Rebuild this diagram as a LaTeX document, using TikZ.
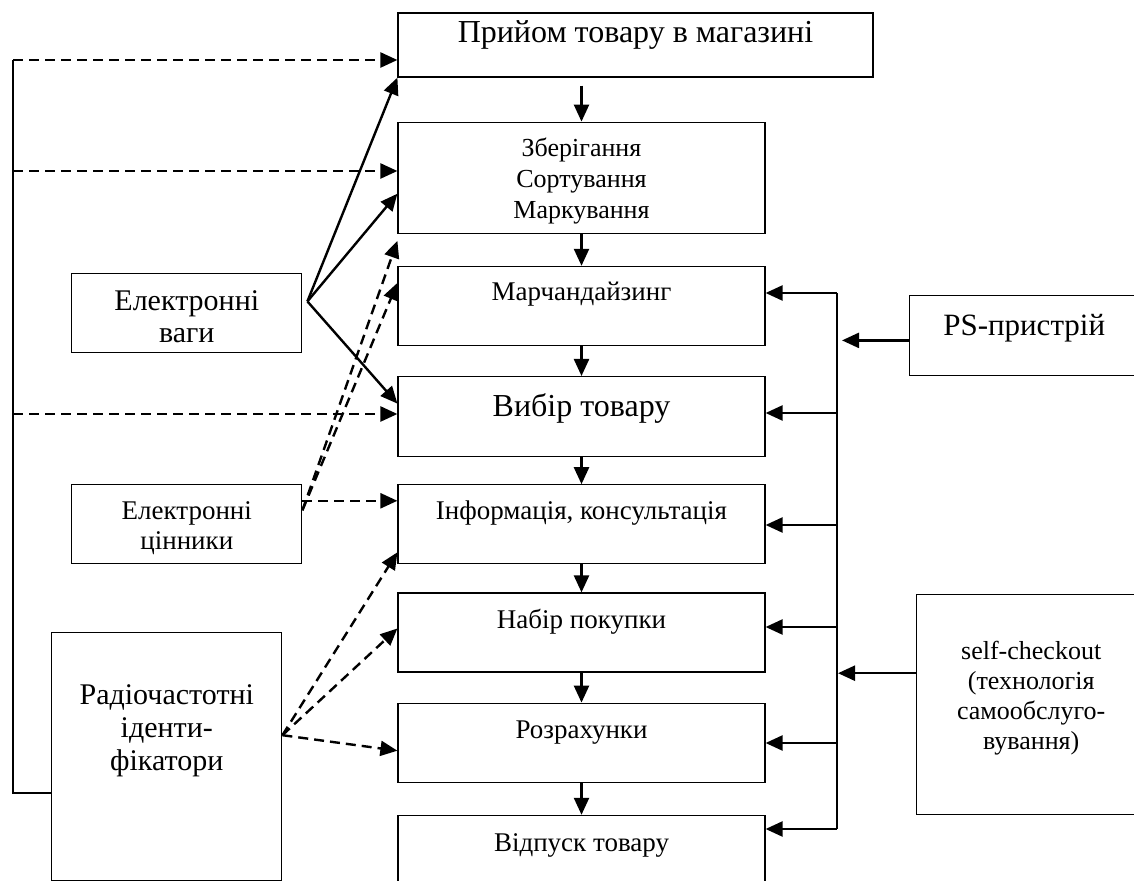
\documentclass[tikz,border=0pt]{standalone}
\usepackage{fontspec}
\setmainfont{Liberation Serif}
\usetikzlibrary{positioning, arrows.meta}

\begin{document}
\begin{tikzpicture}[x=0.5pt, y=-0.5pt, node distance=15pt and 47.5pt]

% Стилі
\tikzset{
    stage/.style={rectangle, draw, line width=0.6pt, minimum width=183.5pt, inner xsep=2pt, inner ysep=0pt, align=center},
    tech/.style={rectangle, draw, line width=0.6pt, minimum width=115pt, inner xsep=2pt, inner ysep=0pt, align=center},
    arrow/.style={-{Triangle[length=8.5pt,width=7.5pt]}, line width=1.2pt},
    dasharrow/.style={arrow, dash pattern=on 5pt off 3pt},
    bus/.style={line width=1.1pt}
}

\useasboundingbox (0,0) rectangle (1134,881);

% Вузли
\node (recv) [stage, minimum width=237.5pt, text height=15pt, text depth=17pt, font=\fontsize{16}{18}\selectfont] at (635.5,45) {Прийом товару в магазині};
\node (store) [stage, below=22pt of recv.south west, anchor=north west, text height=48pt, text depth=7.5pt, font=\fontsize{13}{15.5}\selectfont] {Зберігання\\Сортування\\Маркування};
\node (merch) [stage, below=16pt of store, text height=17pt, text depth=22.5pt, font=\fontsize{13.5}{15}\selectfont] {Марчандайзинг};
\node (choice) [stage, below=of merch, text height=20pt, text depth=20pt, font=\fontsize{16}{19}\selectfont] {Вибір товару};
\node (info) [stage, below=13.5pt of choice, text height=17.5pt, text depth=22pt, font=\fontsize{13.5}{16}\selectfont] {Інформація, консультація};
\node (cart) [stage, below=14pt of info, text height=17.5pt, text depth=22pt, font=\fontsize{13.5}{16}\selectfont] {Набір покупки};
\node (pay) [stage, below=of cart, text height=17.5pt, text depth=22pt, font=\fontsize{13.5}{16}\selectfont] {Розрахунки};
\node (release) [stage, below=16pt of pay, text height=18pt, text depth=22pt, font=\fontsize{13.5}{16}\selectfont] {Відпуск товару};

\node (scales) [tech, left=of merch, yshift=-3.5pt, text height=34.5pt, text depth=5pt, font=\fontsize{15}{16}\selectfont] {Електронні\\ваги};
\node (tags) [tech, left=of info, text height=32.5pt, text depth=7pt, font=\fontsize{13.5}{15}\selectfont] {Електронні\\цінники};
\node (rfid) [tech, left=57.5pt of pay, yshift=-6.75pt, text height=69pt, text depth=55pt, font=\fontsize{15}{16.5}\selectfont] {Радіочастотні\\іденти-\\фікатори};

\node (ps) [tech, right=71.5pt of merch, yshift=-14.75pt, text height=20pt, text depth=20pt, font=\fontsize{15.5}{17}\selectfont] {PS-пристрій};
\node (selfco) [tech, right=75pt of pay, yshift=19.25pt, text height=77.5pt, text depth=32.5pt, font=\fontsize{13}{15}\selectfont] {self-checkout\\(технологія\\самообслуго-\\вування)};

% Шини
\coordinate (lb1) at (13,60);
\coordinate (lb2) at (13,171);
\coordinate (lb3) at (13,414);
\coordinate (lb4) at (13,793);
\coordinate (rb1) at (837,293);
\coordinate (rb2) at (837,413);
\coordinate (rb3) at (837,525);
\coordinate (rb4) at (837,627);
\coordinate (rb5) at (837,743);
\coordinate (rb6) at (837,829);

% Стрілки
\draw [arrow] ([yshift=-4pt]recv.south -| store.north) -- (store.north);
\draw [arrow] (store) -- (merch);
\draw [arrow] (merch) -- (choice);
\draw [arrow] (choice) -- (info);
\draw [arrow] (info) -- (cart);
\draw [arrow] (cart) -- (pay);
\draw [arrow] (pay) -- (release);

\draw [bus, line width=0.8pt] (rfid.west |- lb4) -- (lb4) -- (lb1);
\draw [dasharrow] (lb1) -- (lb1 -| recv.west);
\draw [dasharrow] (lb2) -- (lb2 -| store.west);
\draw [dasharrow] (lb3) -- (lb3 -| choice.west);

\draw [arrow] ([xshift=2.5pt, yshift=5.75pt]scales.east) -- (recv.south west);
\draw [arrow] ([xshift=2.5pt, yshift=5.75pt]scales.east) -- ([yshift=-8pt]store.west);
\draw [arrow] ([xshift=2.5pt, yshift=5.75pt]scales.east) -- ([yshift=6.5pt]choice.west);

\draw [dasharrow] ([yshift=7pt]tags.east) -- ([yshift=-3.5pt]store.south west);
\draw [dasharrow] ([yshift=7pt]tags.east) -- ([yshift=11.5pt]merch.west);
\draw [dasharrow] ([yshift=11.75pt]tags.east) -- ([yshift=11.75pt]tags.east -| info.west);

\draw [dasharrow] ([yshift=10.5pt]rfid.east) -- ([yshift=-14pt]info.west);
\draw [dasharrow] ([yshift=10.5pt]rfid.east) -- ([yshift=2pt]cart.west);
\draw [dasharrow] ([yshift=10.5pt]rfid.east) -- ([yshift=-4pt]pay.west);

\draw [bus] (rb1) -- (rb6);
\draw [arrow] (rb1) -- (rb1 -| merch.east);
\draw [arrow] (rb2) -- (rb2 -| choice.east);
\draw [arrow] (rb3) -- (rb3 -| info.east);
\draw [arrow] (rb4) -- (rb4 -| cart.east);
\draw [arrow] (rb5) -- (rb5 -| pay.east);
\draw [arrow] (rb6) -- (rb6 -| release.east);

\draw [arrow, shorten >=2.5pt] ([yshift=-2.5pt]ps.west) -- ([yshift=-2.5pt]ps.west -| rb1);
\draw [arrow, shorten >=0.5pt] ([yshift=15.5pt]selfco.west) -- ([yshift=15.5pt]selfco.west -| rb1);

\end{tikzpicture}
\end{document}
